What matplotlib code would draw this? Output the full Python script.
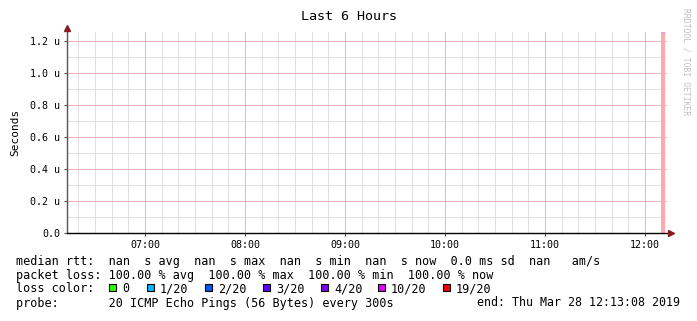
import matplotlib
matplotlib.use("Agg")
import matplotlib.pyplot as plt
from matplotlib.patches import Rectangle

# time axis in hours of the day
t_start = 6 + 13.13 / 60
t_end = 12 + 13.13 / 60
hour_ticks = [7, 8, 9, 10, 11, 12]
hour_labels = ["07:00", "08:00", "09:00", "10:00", "11:00", "12:00"]

# y axis in micro seconds
y_max = 1.256
y_ticks = [0.0, 0.2, 0.4, 0.6, 0.8, 1.0, 1.2]
y_labels = ["0.0", "0.2 u", "0.4 u", "0.6 u", "0.8 u", "1.0 u", "1.2 u"]

# packet loss background (100% loss sample)
loss_start = [12 + 9.6 / 60]
loss_width = [2.6 / 60]

loss_labels = ["0", "1/20", "2/20", "3/20", "4/20", "10/20", "19/20"]
loss_colors = ["#26ff00", "#00b8ff", "#0059ff", "#5e00ff", "#7e00ff", "#dd00ff", "#ff0000"]

legend_lines = [
    "median rtt:  nan  s avg  nan  s max  nan  s min  nan  s now  0.0 ms sd  nan   am/s",
    "packet loss: 100.00 % avg  100.00 % max  100.00 % min  100.00 % now",
    "loss color:",
    "probe:       20 ICMP Echo Pings (56 Bytes) every 300s",
]
end_text = "end: Thu Mar 28 12:13:08 2019"

W, H = 697, 321
fig = plt.figure(figsize=(W / 100, H / 100), dpi=100)
mono = "DejaVu Sans Mono"

x0, x1, y0, y1 = 67, 667, 32, 233
ax = fig.add_axes([x0 / W, 1 - y1 / H, (x1 - x0) / W, (y1 - y0) / H])
ax.set_xlim(t_start, t_end)
ax.set_ylim(0, y_max)

for s, w in zip(loss_start, loss_width):
    ax.bar(s, y_max, width=w, align="edge", color="#ffaaaa", zorder=1)
    ax.plot([s, s + w], [y_max, y_max], color="#d8a0e8", lw=1, zorder=1.5, solid_capstyle="butt")

# grid
minor_x = [h + m / 60 for h in range(6, 13) for m in range(10, 60, 10)]
minor_x = [v for v in minor_x if t_start < v < t_end]
for v in minor_x:
    ax.axvline(v, color="#e0e0e0", lw=0.72, zorder=0)
for v in [0.1, 0.3, 0.5, 0.7, 0.9, 1.1]:
    ax.axhline(v, color="#e0e0e0", lw=0.72, zorder=0)
for v in hour_ticks:
    ax.axvline(v, color="#f0b4b4", lw=0.72, zorder=0.5)
for v in y_ticks[1:]:
    ax.axhline(v, color="#f0b4b4", lw=0.72, zorder=0.5)

ax.set_xticks(hour_ticks)
ax.set_xticklabels(hour_labels, fontfamily=mono, fontsize=7.2)
ax.set_yticks(y_ticks)
ax.set_yticklabels(y_labels, fontfamily=mono, fontsize=7.2)
ax.tick_params(axis="both", length=2, width=0.8, color="#555555", pad=3)
for sp in ["top", "right", "left", "bottom"]:
    ax.spines[sp].set_visible(False)

# axis lines with arrows
fig.add_artist(plt.Line2D([x0 / W, x0 / W], [1 - y1 / H, 1 - 27 / H], color="#555555", lw=1))
fig.add_artist(plt.Line2D([x0 / W, 670 / W], [1 - y1 / H, 1 - y1 / H], color="black", lw=1))
fig.add_artist(plt.Line2D([x0 / W], [1 - 28 / H], marker="^", ms=4, color="#8b1a1a", lw=0))
fig.add_artist(plt.Line2D([671 / W], [1 - y1 / H], marker=">", ms=4, color="#8b1a1a", lw=0))

fig.text(349 / W, 1 - 16 / H, "Last 6 Hours", ha="center", va="center", fontfamily=mono, fontsize=9.6)
fig.text(15 / W, 1 - 132 / H, "Seconds", ha="center", va="center", rotation=90, fontfamily=mono, fontsize=8)
fig.text(686 / W, 1 - 8 / H, "RRDTOOL / TOBI OETIKER", ha="center", va="top", rotation=-90,
         fontfamily=mono, fontsize=5.8, color="#c0c0c0")

line_y = [261, 275, 289, 303]
for txt, yy in zip(legend_lines, line_y):
    fig.text(16 / W, 1 - yy / H, txt, ha="left", va="center", fontfamily=mono, fontsize=8.47)
fig.text(680 / W, 1 - 303 / H, end_text, ha="right", va="center", fontfamily=mono, fontsize=8.4)

sq_x = [109, 147, 205, 263, 321, 378, 443]
for lab, col, sx in zip(loss_labels, loss_colors, sq_x):
    fig.add_artist(Rectangle((sx / W, 1 - 290.5 / H), 7 / W, 7 / H, facecolor=col,
                             edgecolor="black", lw=0.8, transform=fig.transFigure))
    fig.text((sx + 13) / W, 1 - 289 / H, lab, ha="left", va="center", fontfamily=mono, fontsize=8.47)

fig.savefig("out.png", dpi=100)
